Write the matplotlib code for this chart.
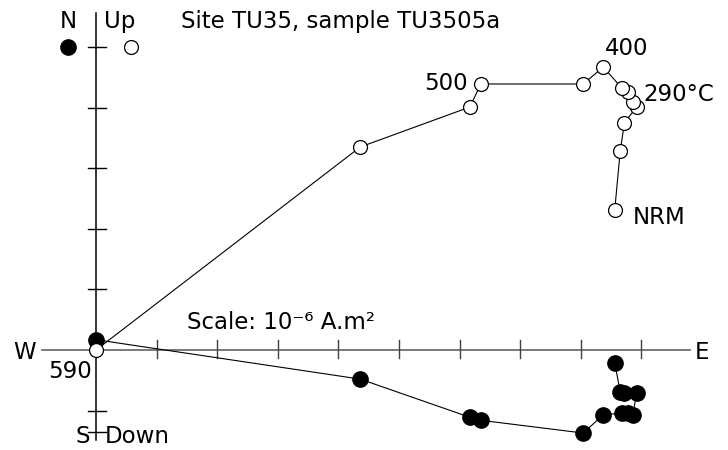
import matplotlib
matplotlib.use("Agg")
from matplotlib import pyplot as plt

# Demagnetisation steps (units: 10^-6 A.m2, one tick = 1 unit)
east = [8.56, 8.65, 8.72, 8.92, 8.86, 8.78, 8.68, 8.37, 8.04, 6.35, 6.17, 4.36, 0.0]
north = [-0.21, -0.69, -0.71, -0.71, -1.07, -1.04, -1.04, -1.07, -1.37, -1.16, -1.11, -0.48, 0.17]
up = [2.31, 3.28, 3.75, 4.01, 4.09, 4.26, 4.32, 4.67, 4.39, 4.39, 4.01, 3.35, 0.0]
step_labels = {0: "NRM", 4: "290°C", 7: "400", 9: "500", 12: "590"}

x_ticks = [1, 2, 3, 4, 5, 6, 7, 8, 9]
y_ticks = [5, 4, 3, 2, 1, -1]

fig = plt.figure(figsize=(7.28, 4.5), dpi=100)
ax = fig.add_axes([0, 0, 1, 1])
ax.set_xlim(-1.584, 10.429)
ax.set_ylim(-1.650, 5.776)
ax.axis("off")

fs = 16.5

# axes lines
ax.plot([-0.89, 9.80], [0, 0], color="#707070", lw=1.3, zorder=1)
ax.plot([0, 0], [-1.49, 5.56], color="black", lw=1.1, zorder=1)
for t in x_ticks:
    ax.plot([t, t], [-0.13, 0.17], color="#404040", lw=1.0, zorder=1)
for t in y_ticks:
    ax.plot([-0.14, 0.16], [t, t], color="black", lw=1.0, zorder=1)
ax.plot([-0.14, 0.16], [-1.36, -1.36], color="black", lw=1.0, zorder=1)

# horizontal projection (filled) and vertical projection (open)
ax.plot(east, north, color="black", lw=0.8, marker="o", markersize=11,
        markerfacecolor="black", markeredgecolor="black", zorder=2)
ax.plot(east, up, color="black", lw=0.8, marker="o", markersize=10,
        markerfacecolor="white", markeredgecolor="black", markeredgewidth=0.9, zorder=3)

# legend markers
ax.plot([-0.46], [5.0], marker="o", markersize=11, color="black", linestyle="None")
ax.plot([0.58], [5.0], marker="o", markersize=10, markerfacecolor="white",
        markeredgecolor="black", markeredgewidth=0.9, linestyle="None")

# step labels
ax.text(east[0] + 0.3, up[0] - 0.12, step_labels[0], fontsize=fs, ha="left", va="center")
ax.text(9.03, 4.22, step_labels[4], fontsize=fs, ha="left", va="center")
ax.text(east[7] + 0.02, up[7] + 0.30, step_labels[7], fontsize=fs, ha="left", va="center")
ax.text(east[9] - 0.22, up[9], step_labels[9], fontsize=fs, ha="right", va="center")
ax.text(-0.06, -0.36, step_labels[12], fontsize=fs, ha="right", va="center")

# axis labels and title
ax.text(-0.46, 5.42, "N", fontsize=fs, ha="center", va="center")
ax.text(0.14, 5.42, "Up", fontsize=fs, ha="left", va="center")
ax.text(1.40, 5.42, "Site TU35, sample TU3505a", fontsize=fs, ha="left", va="center")
ax.text(-1.0, -0.04, "W", fontsize=fs, ha="right", va="center")
ax.text(9.88, -0.04, "E", fontsize=fs, ha="left", va="center")
ax.text(-0.10, -1.42, "S", fontsize=fs, ha="right", va="center")
ax.text(0.14, -1.42, "Down", fontsize=fs, ha="left", va="center")
ax.text(1.50, 0.45, "Scale: 10⁻⁶ A.m²", fontsize=fs, ha="left", va="center")

plt.savefig("out.png", dpi=100)
